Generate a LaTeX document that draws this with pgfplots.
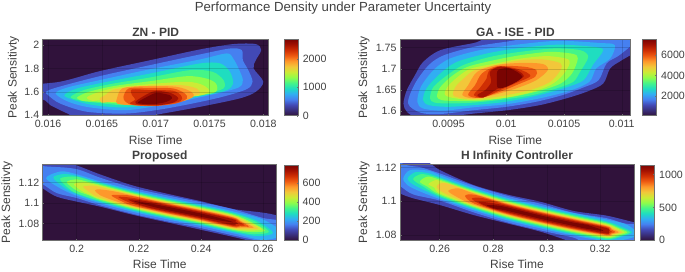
\documentclass[border=0pt]{standalone}
\usepackage{fontspec}
\setmainfont{Liberation Sans}
\usepackage{pgfplots}
\pgfplotsset{compat=1.18}
\definecolor{txt}{HTML}{404040}
\definecolor{ln}{HTML}{707070}
\definecolor{bg}{HTML}{30123B}
\definecolor{La}{HTML}{4249B5}
\definecolor{Lb}{HTML}{4680F0}
\definecolor{Lc}{HTML}{31AEF3}
\definecolor{Ld}{HTML}{1FDDC0}
\definecolor{Le}{HTML}{45F588}
\definecolor{Lf}{HTML}{8FFD4B}
\definecolor{Lg}{HTML}{CCEB36}
\definecolor{Lh}{HTML}{F2C73A}
\definecolor{Li}{HTML}{FE982B}
\definecolor{Lj}{HTML}{EE5A12}
\definecolor{Lk}{HTML}{CF2F04}
\definecolor{Ll}{HTML}{A41202}
\definecolor{Lm}{HTML}{7A0402}
\pgfplotsset{
  colormap={turbo}{
    color(0)=(bg) color(1)=(bg!50!La) color(2)=(La) color(3)=(Lb) color(4)=(Lc) color(5)=(Ld) color(6)=(Le)
    color(7)=(Lf) color(8)=(Lg) color(9)=(Lh) color(10)=(Li) color(11)=(Lj) color(12)=(Lk) color(13)=(Ll) color(14)=(Lm)},
  colorbar shift/.style={},
  every axis title/.style={at={(0.5,1)},above},
  every axis/.append style={
    scale only axis,
    axis line style={ln,line width=0.6pt},
    tick style={ln,line width=0.4pt},
    major tick length=1.5pt,
    tick align=inside,
    tick label style={font=\fontsize{10.6}{12}\selectfont,text=txt},
    label style={font=\fontsize{12}{14}\selectfont,text=txt},
    title style={font=\fontsize{12}{14}\bfseries\selectfont,text=txt},
    /pgf/number format/assume math mode=true,
    /pgf/number format/1000 sep={},
    scaled ticks=false,
  },
}
\pgfplotsset{
  panel/.style={
    axis on top,
    grid=major,
    grid style={black,opacity=0.15,line width=0.4pt},
    axis background/.style={fill=bg},
    xtick pos=bottom, ytick pos=left,
    xlabel={Rise Time}, ylabel={Peak Sensitivty},
    xtick pos=bottom,
  },
  cb/.style={
    colorbar,
    colormap name=turbo,
    colorbar style={
      scale only axis,
      at={(parent axis.north east)},anchor=north west,
      width=14pt,
      axis line style={ln,line width=0.6pt},
      major tick length=1.5pt,
      ytick pos=right,
      yticklabel pos=right,
      yticklabel style={xshift=1pt},
      #1
    },
  },
}
\newcommand{\lv}[2]{\addplot[fill=#1,draw=none,smooth cycle,forget plot] coordinates {#2};}
\begin{document}
\begin{tikzpicture}
\useasboundingbox (0pt,0pt) rectangle (685pt,271pt);
\node[font=\fontsize{13.2}{15}\selectfont,text=txt] at (343pt,262.5pt) {Performance Density under Parameter Uncertainty};

% ---------- ZN - PID
\begin{axis}[panel,
  at={(42.7pt,155.3pt)},anchor=south west,width=226pt,height=76.4pt,
  xmin=0.01595,xmax=0.01805,ymin=1.395,ymax=2.05,
  xtick={0.016,0.0165,0.017,0.0175,0.018},xticklabels={0.016,0.0165,0.017,0.0175,0.018},
  ytick={1.4,1.6,1.8,2},yticklabels={1.4,1.6,1.8,2},
  title={ZN - PID},title style={at={(axis description cs:0.5,1.096)},anchor=center},
  xlabel style={at={(axis description cs:0.5,-0.318)},anchor=center},
  ylabel style={at={(axis description cs:-0.129,0.5)},anchor=center},
  xticklabel style={yshift=-1pt},
  point meta min=0,point meta max=2694,
  cb={xshift=15.6pt,height=76.4pt,ytick={0,1000,2000},yticklabels={0,1000,2000}},
]
\lv{La}{(0.0157,1.645)(0.01611,1.686)(0.01648,1.777)(0.01695,1.871)(0.01741,1.963)(0.01772,2.009)(0.01793,2.009)(0.01798,1.957)(0.01793,1.871)(0.01791,1.800)(0.01800,1.686)(0.01793,1.600)(0.01778,1.543)(0.01741,1.471)(0.01704,1.409)(0.01685,1.38)(0.01630,1.38)(0.01618,1.414)(0.01602,1.486)(0.01595,1.534)(0.0157,1.56)}
\lv{Lb}{(0.01598,1.600)(0.01608,1.637)(0.01648,1.734)(0.01695,1.829)(0.01741,1.920)(0.01769,1.971)(0.01780,1.957)(0.01781,1.871)(0.01786,1.786)(0.01790,1.686)(0.01784,1.620)(0.01756,1.543)(0.01710,1.457)(0.01673,1.414)(0.01636,1.429)(0.01611,1.500)(0.01600,1.571)}
\lv{Lc}{(0.01607,1.586)(0.01618,1.637)(0.01648,1.700)(0.01695,1.794)(0.01741,1.877)(0.01766,1.929)(0.01772,1.886)(0.01777,1.800)(0.01781,1.700)(0.01777,1.637)(0.01753,1.577)(0.01710,1.494)(0.01673,1.443)(0.01639,1.466)(0.01619,1.514)}
\lv{Ld}{(0.01615,1.571)(0.01627,1.629)(0.01655,1.686)(0.01695,1.757)(0.01741,1.843)(0.01760,1.843)(0.01769,1.771)(0.01772,1.671)(0.01766,1.614)(0.01747,1.571)(0.01710,1.514)(0.01673,1.466)(0.01642,1.486)(0.01624,1.529)}
\lv{Le}{(0.01621,1.557)(0.01633,1.614)(0.01658,1.666)(0.01695,1.723)(0.01732,1.786)(0.01753,1.771)(0.01763,1.700)(0.01763,1.629)(0.01747,1.586)(0.01710,1.534)(0.01673,1.486)(0.01645,1.506)(0.01628,1.529)}
\lv{Lf}{(0.01627,1.551)(0.01638,1.600)(0.01661,1.649)(0.01695,1.691)(0.01729,1.734)(0.01747,1.714)(0.01756,1.671)(0.01756,1.600)(0.01741,1.571)(0.01710,1.551)(0.01676,1.500)(0.01648,1.514)(0.01633,1.520)}
\lv{Lg}{(0.01636,1.551)(0.01645,1.591)(0.01664,1.637)(0.01695,1.666)(0.01729,1.686)(0.01744,1.657)(0.01750,1.600)(0.01738,1.563)(0.01710,1.557)(0.01679,1.514)(0.01652,1.529)(0.01641,1.523)}
\lv{Lh}{(0.01648,1.543)(0.01653,1.571)(0.01662,1.620)(0.01692,1.649)(0.01723,1.657)(0.01738,1.629)(0.01741,1.586)(0.01732,1.557)(0.01710,1.529)(0.01679,1.506)(0.01658,1.514)(0.01650,1.506)}
\lv{Li}{(0.01664,1.543)(0.01669,1.629)(0.01689,1.649)(0.01719,1.643)(0.01733,1.600)(0.01735,1.557)(0.01723,1.514)(0.01698,1.486)(0.01675,1.486)(0.01664,1.500)}
\lv{Lj}{(0.01670,1.557)(0.01675,1.629)(0.01692,1.634)(0.01716,1.629)(0.01727,1.586)(0.01729,1.543)(0.01719,1.500)(0.01698,1.477)(0.01679,1.486)(0.01672,1.514)}
\lv{Lk}{(0.01678,1.571)(0.01678,1.620)(0.01695,1.614)(0.01716,1.609)(0.01724,1.563)(0.01723,1.520)(0.01710,1.494)(0.01685,1.486)(0.01676,1.500)(0.01681,1.534)}
\lv{Ll}{(0.01681,1.514)(0.01692,1.580)(0.01701,1.609)(0.01715,1.586)(0.01721,1.543)(0.01716,1.506)(0.01701,1.483)(0.01685,1.491)}
\lv{Lm}{(0.01684,1.514)(0.01692,1.557)(0.01701,1.591)(0.01713,1.571)(0.01715,1.543)(0.01710,1.514)(0.01698,1.494)(0.01685,1.500)}
\end{axis}

% ---------- GA - ISE - PID
\begin{axis}[panel,
  at={(400pt,155.3pt)},anchor=south west,width=230.7pt,height=76.4pt,
  xmin=0.00908,xmax=0.011078,ymin=1.589,ymax=1.7697,
  xtick={0.0095,0.01,0.0105,0.011},xticklabels={0.0095,0.01,0.0105,0.011},
  ytick={1.6,1.65,1.7,1.75},yticklabels={1.6,1.65,1.7,1.75},
  title={GA - ISE - PID},title style={at={(axis description cs:0.5,1.096)},anchor=center},
  xlabel style={at={(axis description cs:0.5,-0.318)},anchor=center},
  ylabel style={at={(axis description cs:-0.156,0.5)},anchor=center},
  xticklabel style={yshift=-1pt},
  point meta min=81,point meta max=7530,
  cb={xshift=12pt,height=76.4pt,ytick={2000,4000,6000},yticklabels={2000,4000,6000}},
]
\lv{La}{(0.00911,1.618)(0.00914,1.650)(0.00921,1.685)(0.00928,1.716)(0.00943,1.744)(0.00972,1.761)(0.00995,1.774)(0.01110,1.774)(0.01113,1.744)(0.01100,1.720)(0.01090,1.701)(0.01084,1.665)(0.01070,1.646)(0.01052,1.630)(0.01029,1.614)(0.01001,1.602)(0.00972,1.594)(0.00943,1.585)(0.00923,1.585)(0.00914,1.598)}
\lv{Lb}{(0.00915,1.618)(0.00921,1.665)(0.00933,1.709)(0.00946,1.732)(0.00972,1.752)(0.01000,1.764)(0.01029,1.774)(0.01101,1.774)(0.01111,1.764)(0.01098,1.732)(0.01087,1.713)(0.01080,1.673)(0.01067,1.656)(0.01049,1.638)(0.01026,1.622)(0.01000,1.610)(0.00972,1.602)(0.00943,1.593)(0.00926,1.596)}
\lv{Lc}{(0.00923,1.622)(0.00926,1.657)(0.00937,1.697)(0.00951,1.724)(0.00977,1.744)(0.01006,1.756)(0.01044,1.766)(0.01081,1.761)(0.01094,1.756)(0.01090,1.724)(0.01078,1.701)(0.01072,1.669)(0.01055,1.648)(0.01029,1.630)(0.01000,1.616)(0.00972,1.609)(0.00946,1.601)(0.00928,1.606)}
\lv{Ld}{(0.00928,1.626)(0.00931,1.654)(0.00943,1.689)(0.00957,1.716)(0.00983,1.736)(0.01009,1.748)(0.01044,1.757)(0.01075,1.752)(0.01084,1.744)(0.01075,1.709)(0.01067,1.673)(0.01052,1.656)(0.01029,1.638)(0.01000,1.622)(0.00972,1.614)(0.00949,1.610)(0.00933,1.614)}
\lv{Le}{(0.00934,1.630)(0.00937,1.657)(0.00949,1.685)(0.00963,1.709)(0.00986,1.728)(0.01012,1.740)(0.01041,1.748)(0.01064,1.744)(0.01071,1.728)(0.01064,1.693)(0.01058,1.669)(0.01044,1.654)(0.01023,1.638)(0.01000,1.628)(0.00972,1.620)(0.00951,1.618)(0.00938,1.620)}
\lv{Lf}{(0.00940,1.634)(0.00943,1.657)(0.00954,1.685)(0.00967,1.705)(0.00989,1.720)(0.01012,1.732)(0.01038,1.740)(0.01058,1.735)(0.01062,1.724)(0.01057,1.689)(0.01047,1.665)(0.01029,1.648)(0.01006,1.634)(0.00977,1.624)(0.00954,1.624)(0.00944,1.626)}
\lv{Lg}{(0.00947,1.638)(0.00949,1.657)(0.00959,1.683)(0.00970,1.701)(0.00992,1.713)(0.01012,1.724)(0.01035,1.730)(0.01052,1.724)(0.01055,1.713)(0.01049,1.685)(0.01038,1.661)(0.01018,1.642)(0.00995,1.630)(0.00972,1.626)(0.00956,1.630)}
\lv{Lh}{(0.00954,1.638)(0.00956,1.657)(0.00964,1.679)(0.00973,1.697)(0.00992,1.709)(0.01012,1.720)(0.01032,1.722)(0.01047,1.713)(0.01047,1.697)(0.01038,1.669)(0.01021,1.650)(0.00995,1.635)(0.00972,1.628)(0.00960,1.631)}
\lv{Li}{(0.00962,1.638)(0.00967,1.661)(0.00975,1.693)(0.00992,1.709)(0.01015,1.714)(0.01032,1.711)(0.01036,1.697)(0.01026,1.673)(0.01009,1.654)(0.00989,1.638)(0.00972,1.630)}
\lv{Lj}{(0.00967,1.638)(0.00973,1.661)(0.00979,1.689)(0.00992,1.706)(0.01015,1.705)(0.01026,1.697)(0.01025,1.681)(0.01012,1.665)(0.00995,1.646)(0.00977,1.631)}
\lv{Lk}{(0.00972,1.638)(0.00977,1.654)(0.00983,1.677)(0.00985,1.695)(0.00995,1.706)(0.01012,1.698)(0.01021,1.683)(0.01009,1.667)(0.00995,1.650)(0.00980,1.632)}
\lv{Ll}{(0.00975,1.638)(0.00982,1.650)(0.00987,1.669)(0.00986,1.693)(0.00995,1.705)(0.01009,1.697)(0.01015,1.681)(0.01000,1.664)(0.00992,1.652)(0.00980,1.632)}
\lv{Lm}{(0.00992,1.677)(0.00993,1.697)(0.01003,1.701)(0.01014,1.681)(0.01003,1.661)(0.00993,1.654)}
\end{axis}

% ---------- Proposed
\begin{axis}[panel,
  at={(42.7pt,30.7pt)},anchor=south west,width=234pt,height=76.3pt,
  xmin=0.1891,xmax=0.2643,ymin=1.0637,ymax=1.1382,
  xtick={0.2,0.22,0.24,0.26},xticklabels={0.2,0.22,0.24,0.26},
  ytick={1.08,1.1,1.12},yticklabels={1.08,1.1,1.12},
  title={Proposed},title style={at={(axis description cs:0.5,1.105)},anchor=center},
  xlabel style={at={(axis description cs:0.5,-0.31)},anchor=center},
  ylabel style={at={(axis description cs:-0.153,0.5)},anchor=center},
  xticklabel style={yshift=-1pt},
  point meta min=0,point meta max=793,
  cb={xshift=7.5pt,yshift=-1pt,height=75.3pt,ytick={0,200,400,600},yticklabels={0,200,400,600}},
]
\lv{La}{(0.185,1.145)(0.1968,1.1395)(0.2011,1.1356)(0.2075,1.1281)(0.2182,1.1171)(0.2289,1.1093)(0.2396,1.1021)(0.2503,1.0943)(0.2663,1.0852)(0.27,1.05)(0.2556,1.0631)(0.2396,1.0742)(0.2289,1.0813)(0.2182,1.0885)(0.2075,1.0966)(0.2,1.1015)(0.1936,1.1063)(0.1891,1.1145)(0.185,1.125)}
\lv{Lb}{(0.185,1.14)(0.1891,1.1362)(0.1968,1.1346)(0.2011,1.1323)(0.2075,1.1249)(0.2182,1.1148)(0.2289,1.1077)(0.2396,1.1012)(0.2503,1.0940)(0.2599,1.0855)(0.2663,1.0810)(0.2663,1.06)(0.2556,1.0650)(0.2396,1.0758)(0.2289,1.0823)(0.2182,1.0894)(0.2075,1.0979)(0.2,1.1050)(0.1936,1.1098)(0.1891,1.1185)(0.185,1.125)}
\lv{Lc}{(0.1902,1.1245)(0.1950,1.1310)(0.2,1.1282)(0.2075,1.1213)(0.2182,1.1128)(0.2289,1.1057)(0.2396,1.0992)(0.2503,1.0920)(0.2599,1.0840)(0.2665,1.0700)(0.2599,1.0640)(0.2503,1.0706)(0.2396,1.0778)(0.2289,1.0843)(0.2182,1.0914)(0.2075,1.0999)(0.2,1.1072)(0.1950,1.1140)}
\lv{Ld}{(0.1925,1.1250)(0.1960,1.1285)(0.2,1.1265)(0.2075,1.1200)(0.2182,1.1115)(0.2289,1.1044)(0.2396,1.0979)(0.2503,1.0907)(0.2580,1.0828)(0.2631,1.0710)(0.2580,1.0678)(0.2503,1.0719)(0.2396,1.0791)(0.2289,1.0856)(0.2182,1.0927)(0.2075,1.1012)(0.2,1.1089)(0.1960,1.1151)}
\lv{Le}{(0.1947,1.1240)(0.2,1.1258)(0.2075,1.1191)(0.2182,1.1106)(0.2289,1.1035)(0.2396,1.0970)(0.2503,1.0898)(0.2570,1.0826)(0.2618,1.0720)(0.2570,1.0696)(0.2503,1.0728)(0.2396,1.0800)(0.2289,1.0865)(0.2182,1.0936)(0.2075,1.1021)(0.2,1.1096)(0.1972,1.1150)}
\lv{Lf}{(0.1968,1.1205)(0.2,1.1232)(0.2040,1.1205)(0.2075,1.1179)(0.2182,1.1096)(0.2289,1.1025)(0.2396,1.0960)(0.2503,1.0888)(0.2560,1.0818)(0.2606,1.0730)(0.2560,1.0718)(0.2503,1.0738)(0.2396,1.0810)(0.2289,1.0875)(0.2182,1.0946)(0.2075,1.1033)(0.2040,1.1075)(0.2,1.1122)}
\lv{Lg}{(0.1991,1.1183)(0.2020,1.1203)(0.2050,1.1188)(0.2075,1.1172)(0.2182,1.1089)(0.2289,1.1018)(0.2396,1.0953)(0.2503,1.0881)(0.2550,1.0821)(0.2596,1.0745)(0.2550,1.0731)(0.2503,1.0745)(0.2396,1.0817)(0.2289,1.0882)(0.2182,1.0953)(0.2075,1.1040)(0.2050,1.1072)(0.2020,1.1113)}
\lv{Lh}{(0.2021,1.1160)(0.2050,1.1170)(0.2075,1.1158)(0.2182,1.1081)(0.2289,1.1010)(0.2396,1.0945)(0.2503,1.0873)(0.2540,1.0824)(0.2583,1.0750)(0.2540,1.0744)(0.2503,1.0753)(0.2396,1.0825)(0.2289,1.0890)(0.2182,1.0961)(0.2075,1.1054)(0.2050,1.1090)}
\lv{Li}{(0.2059,1.1125)(0.2075,1.1134)(0.2120,1.1115)(0.2182,1.1073)(0.2289,1.1002)(0.2396,1.0937)(0.2503,1.0865)(0.2530,1.0822)(0.2569,1.0762)(0.2530,1.0762)(0.2503,1.0761)(0.2396,1.0833)(0.2289,1.0898)(0.2182,1.0969)(0.2120,1.1025)(0.2075,1.1078)}
\lv{Lj}{(0.2112,1.1075)(0.2150,1.1080)(0.2182,1.1067)(0.2289,1.0996)(0.2396,1.0931)(0.2503,1.0859)(0.2525,1.0822)(0.2554,1.0772)(0.2525,1.0772)(0.2503,1.0767)(0.2396,1.0839)(0.2289,1.0904)(0.2182,1.0975)(0.2150,1.1010)}
\lv{Lk}{(0.2134,1.1060)(0.2170,1.1055)(0.2220,1.1031)(0.2289,1.0987)(0.2396,1.0922)(0.2503,1.0850)(0.2520,1.0819)(0.2540,1.0783)(0.2520,1.0779)(0.2503,1.0776)(0.2396,1.0848)(0.2289,1.0913)(0.2220,1.0959)(0.2170,1.1005)}
\lv{Ll}{(0.2166,1.1035)(0.2200,1.1030)(0.2240,1.1009)(0.2289,1.0979)(0.2396,1.0914)(0.2503,1.0842)(0.2510,1.0820)(0.2519,1.0800)(0.2510,1.0796)(0.2503,1.0784)(0.2396,1.0856)(0.2289,1.0921)(0.2240,1.0951)(0.2200,1.0986)}
\lv{Lm}{(0.2182,1.1021)(0.2230,1.1000)(0.2289,1.0966)(0.2396,1.0901)(0.2460,1.0855)(0.2503,1.0813)(0.2460,1.0831)(0.2396,1.0869)(0.2289,1.0934)(0.2230,1.0976)}
\end{axis}

% ---------- H Infinity Controller
\begin{axis}[panel,
  at={(400pt,30.7pt)},anchor=south west,width=234pt,height=76.3pt,
  xmin=0.2452,xmax=0.3326,ymin=1.0768,ymax=1.122,
  xtick={0.26,0.28,0.3,0.32},xticklabels={0.26,0.28,0.3,0.32},
  ytick={1.08,1.1,1.12},yticklabels={1.08,1.1,1.12},
  title={H Infinity Controller},title style={at={(axis description cs:0.5,1.105)},anchor=center},
  xlabel style={at={(axis description cs:0.5,-0.31)},anchor=center},
  ylabel style={at={(axis description cs:-0.154,0.5)},anchor=center},
  xticklabel style={yshift=-1pt},
  point meta min=0,point meta max=1147,
  cb={xshift=6.7pt,yshift=-1pt,height=75.3pt,ytick={0,500,1000},yticklabels={0,500,1000}},
]
\lv{La}{(0.235,1.135)(0.2490,1.1262)(0.2564,1.1224)(0.2601,1.1184)(0.2726,1.1096)(0.2850,1.1040)(0.2975,1.0997)(0.3100,1.0942)(0.3224,1.0914)(0.3326,1.0875)(0.34,1.085)(0.34,1.07)(0.32,1.07)(0.3075,1.0768)(0.2975,1.0820)(0.2850,1.0869)(0.2726,1.0918)(0.2601,1.0977)(0.2501,1.1017)(0.2452,1.1046)(0.240,1.11)}
\lv{Lb}{(0.240,1.125)(0.2480,1.1212)(0.2530,1.1200)(0.2601,1.1164)(0.2726,1.1092)(0.2850,1.1033)(0.2975,1.0985)(0.3100,1.0931)(0.3224,1.0899)(0.33,1.0865)(0.34,1.0855)(0.34,1.07)(0.3150,1.0755)(0.3100,1.0784)(0.2975,1.0827)(0.2850,1.0875)(0.2726,1.0934)(0.2601,1.1003)(0.2501,1.1040)(0.2452,1.1090)(0.240,1.115)}
\lv{Lc}{(0.2464,1.1135)(0.2490,1.1184)(0.2560,1.1180)(0.2601,1.1154)(0.2726,1.1080)(0.2850,1.1021)(0.2975,1.0973)(0.3100,1.0930)(0.3224,1.0891)(0.3300,1.0860)(0.3340,1.0805)(0.3300,1.0775)(0.3224,1.0763)(0.3100,1.0796)(0.2975,1.0839)(0.2850,1.0887)(0.2726,1.0946)(0.2601,1.1012)(0.2520,1.1062)(0.2480,1.1095)}
\lv{Ld}{(0.2480,1.1135)(0.2510,1.1172)(0.2560,1.1165)(0.2601,1.1141)(0.2726,1.1072)(0.2850,1.1013)(0.2975,1.0965)(0.3100,1.0922)(0.3224,1.0880)(0.3280,1.0848)(0.3319,1.0815)(0.3280,1.0790)(0.3224,1.0770)(0.3100,1.0804)(0.2975,1.0847)(0.2850,1.0895)(0.2726,1.0954)(0.2601,1.1023)(0.2530,1.1075)(0.2495,1.1105)}
\lv{Le}{(0.2501,1.1130)(0.2530,1.1160)(0.2570,1.1150)(0.2601,1.1135)(0.2726,1.1066)(0.2850,1.1007)(0.2975,1.0959)(0.3100,1.0916)(0.3224,1.0874)(0.3270,1.0845)(0.3311,1.0815)(0.3270,1.0790)(0.3224,1.0776)(0.3100,1.0810)(0.2975,1.0853)(0.2850,1.0901)(0.2726,1.0960)(0.2601,1.1030)(0.2540,1.1085)}
\lv{Lf}{(0.2526,1.1115)(0.2555,1.1145)(0.2601,1.1127)(0.2726,1.1060)(0.2850,1.1001)(0.2975,1.0953)(0.3100,1.0910)(0.3224,1.0868)(0.3265,1.0842)(0.3301,1.0815)(0.3265,1.0795)(0.3224,1.0782)(0.3100,1.0816)(0.2975,1.0859)(0.2850,1.0907)(0.2726,1.0966)(0.2601,1.1038)(0.2555,1.1085)}
\lv{Lg}{(0.2558,1.1100)(0.2580,1.1122)(0.2601,1.1120)(0.2726,1.1055)(0.2850,1.0996)(0.2975,1.0948)(0.3100,1.0905)(0.3224,1.0863)(0.3260,1.0840)(0.3291,1.0815)(0.3260,1.0800)(0.3224,1.0787)(0.3100,1.0821)(0.2975,1.0864)(0.2850,1.0912)(0.2726,1.0971)(0.2601,1.1045)(0.2580,1.1080)}
\lv{Lh}{(0.2589,1.1085)(0.2620,1.1108)(0.2726,1.1050)(0.2850,1.0991)(0.2975,1.0943)(0.3100,1.0900)(0.3224,1.0858)(0.3250,1.0838)(0.3281,1.0815)(0.3250,1.0803)(0.3224,1.0792)(0.3100,1.0826)(0.2975,1.0869)(0.2850,1.0917)(0.2726,1.0976)(0.2620,1.1045)}
\lv{Li}{(0.2632,1.1060)(0.2670,1.1076)(0.2726,1.1046)(0.2850,1.0987)(0.2975,1.0939)(0.3100,1.0896)(0.3224,1.0854)(0.3245,1.0835)(0.3269,1.0816)(0.3245,1.0805)(0.3224,1.0796)(0.3100,1.0830)(0.2975,1.0873)(0.2850,1.0921)(0.2726,1.0980)(0.2670,1.1020)}
\lv{Lj}{(0.2695,1.1030)(0.2730,1.1038)(0.2850,1.0983)(0.2975,1.0935)(0.3100,1.0892)(0.3224,1.0850)(0.3240,1.0833)(0.3257,1.0817)(0.3240,1.0808)(0.3224,1.0800)(0.3100,1.0834)(0.2975,1.0877)(0.2850,1.0925)(0.2730,1.0985)}
\lv{Lk}{(0.2720,1.1015)(0.2760,1.1018)(0.2850,1.0978)(0.2975,1.0930)(0.3100,1.0887)(0.3224,1.0845)(0.3230,1.0832)(0.3245,1.0817)(0.3230,1.0812)(0.3224,1.0803)(0.3100,1.0839)(0.2975,1.0882)(0.2850,1.0930)(0.2760,1.0975)}
\lv{Ll}{(0.2745,1.0995)(0.2790,1.0990)(0.2850,1.0972)(0.2975,1.0924)(0.3100,1.0881)(0.3224,1.0840)(0.3232,1.0820)(0.3224,1.0808)(0.3100,1.0845)(0.2975,1.0888)(0.2850,1.0936)(0.2790,1.0960)}
\lv{Lm}{(0.2776,1.0975)(0.2810,1.0975)(0.2850,1.0964)(0.2975,1.0916)(0.3100,1.0873)(0.3150,1.0860)(0.3212,1.0825)(0.3150,1.0836)(0.3100,1.0853)(0.2975,1.0896)(0.2850,1.0944)(0.2810,1.0955)}
\end{axis}
\end{tikzpicture}
\end{document}
